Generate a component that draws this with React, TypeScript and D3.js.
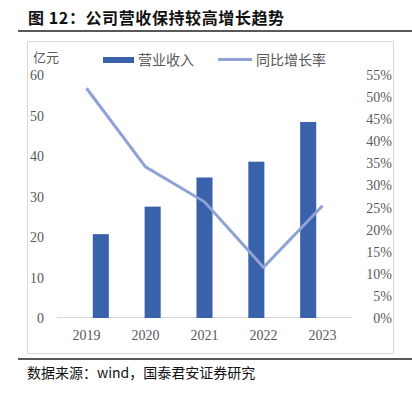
import { useEffect, useRef } from 'react';
import * as d3 from 'd3';

const years = ['2019', '2020', '2021', '2022', '2023'];
const revenue = [20.7, 27.5, 34.7, 38.6, 48.4];
const growth = [52.0, 34.2, 26.3, 11.5, 25.4];
const leftTicks = [0, 10, 20, 30, 40, 50, 60];
const rightTicks = [0, 5, 10, 15, 20, 25, 30, 35, 40, 45, 50, 55];

const W = 412;
const H = 397;
const serif = '"Liberation Serif", "Noto Sans CJK SC", serif';
const cjk = '"Noto Sans CJK SC", sans-serif';

export default function App() {
  const svgRef = useRef<SVGSVGElement>(null);

  useEffect(() => {
    if (!svgRef.current) return;
    const svg = d3.select(svgRef.current);
    svg.selectAll('*').remove();

    // plot area
    const left = 57;
    const right = 352;
    const top = 75;
    const bottom = 318;

    const x = d3.scaleBand().domain(years).range([left, right]).padding(0.69);
    const xc = d3.scalePoint().domain(years).range([left, right]).padding(0.5);
    const y = d3.scaleLinear().domain([0, 60]).range([bottom, top]);
    const y2 = d3.scaleLinear().domain([0, 55]).range([bottom, top]);

    // title
    svg.append('text')
      .attr('x', 28).attr('y', 24)
      .style('font-family', cjk).style('font-size', '16px').style('font-weight', 700)
      .style('letter-spacing', '0.6px')
      .attr('fill', '#111')
      .text('图 12：公司营收保持较高增长趋势');
    svg.append('line')
      .attr('x1', 18).attr('x2', W).attr('y1', 31).attr('y2', 31)
      .attr('stroke', '#222').attr('stroke-width', 1.5);

    // chart frame
    svg.append('rect')
      .attr('x', 27.5).attr('y', 41.5).attr('width', 366).attr('height', 312)
      .attr('fill', '#fff').attr('stroke', '#d9d9d9');

    // left axis labels
    svg.append('g').selectAll('text').data(leftTicks).join('text')
      .attr('x', 44).attr('y', d => y(d) + 5)
      .attr('text-anchor', 'end')
      .style('font-family', serif).style('font-size', '14px')
      .attr('fill', '#595959')
      .text(d => d);

    // right axis labels
    svg.append('g').selectAll('text').data(rightTicks).join('text')
      .attr('x', 392).attr('y', d => y2(d) + 5)
      .attr('text-anchor', 'end')
      .style('font-family', serif).style('font-size', '14px')
      .attr('fill', '#595959')
      .text(d => d + '%');

    // unit label
    svg.append('text')
      .attr('x', 33).attr('y', 62)
      .style('font-family', cjk).style('font-size', '13px')
      .attr('fill', '#595959')
      .text('亿元');

    // baseline
    svg.append('line')
      .attr('x1', left).attr('x2', right).attr('y1', bottom - 0.5).attr('y2', bottom - 0.5)
      .attr('stroke', '#d9d9d9');

    // bars
    svg.append('g').selectAll('rect').data(revenue).join('rect')
      .attr('x', (_, i) => x(years[i]) || 0)
      .attr('width', x.bandwidth())
      .attr('y', d => y(d))
      .attr('height', d => bottom - y(d))
      .attr('fill', '#3a62aa');

    // growth line
    const line = d3.line<number>()
      .x((_, i) => xc(years[i]) || 0)
      .y(d => y2(d));
    svg.append('path')
      .datum(growth)
      .attr('d', line)
      .attr('fill', 'none')
      .attr('stroke', '#8fa2d6')
      .attr('stroke-width', 3);

    // x labels
    svg.append('g').selectAll('text').data(years).join('text')
      .attr('x', d => xc(d) || 0).attr('y', 340)
      .attr('text-anchor', 'middle')
      .style('font-family', serif).style('font-size', '14px')
      .attr('fill', '#595959')
      .text(d => d);

    // legend
    svg.append('rect')
      .attr('x', 103).attr('y', 57).attr('width', 31).attr('height', 6)
      .attr('fill', '#3a62aa');
    svg.append('text')
      .attr('x', 138).attr('y', 65)
      .style('font-family', cjk).style('font-size', '14px')
      .attr('fill', '#595959')
      .text('营业收入');
    svg.append('line')
      .attr('x1', 218).attr('x2', 252).attr('y1', 59.5).attr('y2', 59.5)
      .attr('stroke', '#8fa2d6').attr('stroke-width', 3);
    svg.append('text')
      .attr('x', 256).attr('y', 65)
      .style('font-family', cjk).style('font-size', '14px')
      .attr('fill', '#595959')
      .text('同比增长率');

    // bottom rule + source
    svg.append('line')
      .attr('x1', 18).attr('x2', W).attr('y1', 359).attr('y2', 359)
      .attr('stroke', '#222').attr('stroke-width', 1.5);
    svg.append('text')
      .attr('x', 27).attr('y', 378)
      .style('font-family', cjk).style('font-size', '14px')
      .attr('fill', '#111')
      .text('数据来源：wind，国泰君安证券研究');
  }, []);

  return (
    <svg
      ref={svgRef}
      width={W}
      height={H}
      style={{ position: 'absolute', left: 0, top: 0, background: '#fff' }}
    />
  );
}
